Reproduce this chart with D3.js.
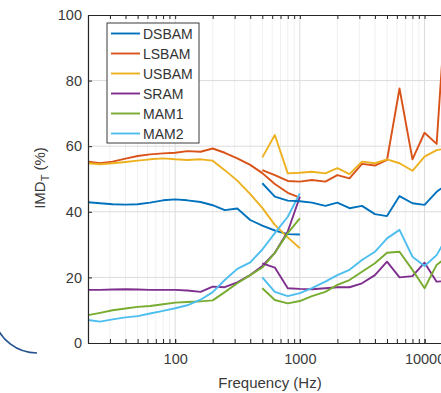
<!DOCTYPE html>
<html>
<head>
<meta charset="utf-8">
<script src="https://cdn.jsdelivr.net/npm/d3@7"></script>
<style>
  body { margin: 0; background: #fff; }
  svg { display: block; font-family: "Liberation Sans", Arial, sans-serif; }
</style>
</head>
<body>
<svg id="chart" width="441" height="393"></svg>
<script>
// third-octave frequencies of the two measurement sweeps
var freqLow = [20, 25, 31.5, 40, 50, 63, 80, 100, 125, 160, 200, 250, 315, 400, 500, 630, 800, 1000];
var freqHigh = [500, 630, 800, 1000, 1250, 1600, 2000, 2500, 3150, 4000, 5000, 6300, 8000, 10000, 12500, 16000];

var seriesNames = ["DSBAM", "LSBAM", "USBAM", "SRAM", "MAM1", "MAM2"];

// IMD_T (%) for the low sweep
var dsbamLow = [42.9, 42.6, 42.3, 42.2, 42.3, 42.8, 43.5, 43.8, 43.5, 43.0, 42.0, 40.5, 41.0, 37.5, 35.8, 34.3, 33.2, 33.1];
var lsbamLow = [55.3, 54.8, 55.3, 56.2, 57.0, 57.5, 57.8, 58.0, 58.5, 58.3, 59.3, 58.0, 56.3, 54.3, 51.8, 48.5, 45.8, 44.3];
var usbamLow = [54.8, 54.5, 54.8, 55.2, 55.6, 56.0, 56.3, 56.0, 55.8, 56.0, 55.6, 52.7, 49.5, 45.4, 41.2, 36.0, 32.2, 28.9];
var sramLow  = [16.2, 16.2, 16.3, 16.4, 16.3, 16.2, 16.2, 16.2, 16.0, 15.6, 17.2, 17.0, 18.5, 20.7, 23.5, 27.5, 34.0, 44.6];
var mam1Low  = [8.5, 9.2, 10.0, 10.5, 11.0, 11.3, 11.8, 12.3, 12.5, 12.7, 13.0, 15.5, 18.2, 20.7, 23.0, 27.5, 33.5, 38.0];
var mam2Low  = [7.0, 6.5, 7.2, 7.8, 8.2, 9.0, 9.8, 10.6, 11.5, 13.2, 15.5, 19.2, 22.6, 24.6, 28.5, 33.5, 38.5, 45.6];

// IMD_T (%) for the high sweep
var dsbamHigh = [48.7, 44.6, 43.4, 43.2, 42.8, 41.8, 42.8, 41.1, 41.8, 39.3, 38.7, 44.8, 42.6, 42.1, 46.1, 49.0];
var lsbamHigh = [52.7, 51.2, 49.4, 49.2, 49.7, 49.2, 51.2, 50.2, 54.6, 54.1, 55.8, 77.6, 56.0, 64.1, 60.7, 122];
var usbamHigh = [56.6, 63.4, 51.7, 51.9, 52.2, 51.7, 53.3, 51.5, 55.3, 54.8, 56.0, 54.8, 52.5, 56.8, 58.8, 59.5];
var sramHigh  = [24.3, 23.0, 16.7, 16.5, 16.4, 16.7, 17.0, 17.0, 18.2, 20.7, 24.8, 20.0, 20.4, 24.5, 18.7, 19.0];
var mam1High  = [16.7, 13.1, 12.1, 12.8, 14.3, 15.6, 17.7, 19.2, 21.7, 24.3, 27.5, 27.8, 22.3, 16.7, 23.8, 27.0];
var mam2High  = [20.0, 15.6, 14.3, 15.2, 16.7, 18.7, 20.7, 22.3, 25.3, 27.8, 31.9, 34.5, 26.3, 23.5, 26.8, 34.0];

var yTicks = [0, 20, 40, 60, 80, 100];
var xTicks = [100, 1000, 10000];

var colors = ["#0072BD", "#D95319", "#EDB120", "#7E2F8E", "#77AC30", "#4DBEEE"];
var lowSets = [dsbamLow, lsbamLow, usbamLow, sramLow, mam1Low, mam2Low];
var highSets = [dsbamHigh, lsbamHigh, usbamHigh, sramHigh, mam1High, mam2High];

var mLeft = 88, mTop = 15, mRight = 450, mBottom = 343;

var svg = d3.select("#chart");
var x = d3.scaleLog().domain([20, 16000]).range([mLeft, mRight]);
var y = d3.scaleLinear().domain([0, 100]).range([mBottom, mTop]);

// minor log positions
var minor = [];
[10, 100, 1000, 10000].forEach(function (d) {
    for (var k = 1; k < 10; k++) {
        var v = d * k;
        if (v >= 20 && v <= 16000) minor.push(v);
    }
});

// grid
var grid = svg.append("g");
grid.selectAll(".mg").data(minor.filter(function (v) { return xTicks.indexOf(v) < 0; }))
    .enter().append("line")
    .attr("x1", function (d) { return x(d); }).attr("x2", function (d) { return x(d); })
    .attr("y1", mTop).attr("y2", mBottom)
    .style("stroke", "#f0f0f0").style("stroke-width", 1);
grid.selectAll(".gx").data(xTicks).enter().append("line")
    .attr("x1", function (d) { return x(d); }).attr("x2", function (d) { return x(d); })
    .attr("y1", mTop).attr("y2", mBottom)
    .style("stroke", "#dcdcdc").style("stroke-width", 1);
grid.selectAll(".gy").data(yTicks.slice(1, 5)).enter().append("line")
    .attr("x1", mLeft).attr("x2", mRight)
    .attr("y1", function (d) { return y(d); }).attr("y2", function (d) { return y(d); })
    .style("stroke", "#dcdcdc").style("stroke-width", 1);

// lines
svg.append("clipPath").attr("id", "clip").append("rect")
    .attr("x", mLeft).attr("y", mTop).attr("width", mRight - mLeft).attr("height", mBottom - mTop);

var plot = svg.append("g").attr("clip-path", "url(#clip)");

function drawSet(freqs, sets) {
    for (var i = 0; i < sets.length; i++) {
        var pts = freqs.map(function (f, j) { return [f, sets[i][j]]; });
        plot.append("path")
            .datum(pts)
            .attr("d", d3.line().x(function (d) { return x(d[0]); }).y(function (d) { return y(d[1]); }))
            .style("fill", "none")
            .style("stroke", colors[i])
            .style("stroke-width", 1.9)
            .style("stroke-linejoin", "round");
    }
}
drawSet(freqLow, lowSets);
drawSet(freqHigh, highSets);

// axes
var axisColor = "#262626";
var gx = svg.append("g").attr("transform", "translate(0," + mBottom + ")")
    .call(d3.axisBottom(x).tickValues(xTicks).tickFormat(d3.format("d")).tickSizeInner(-4).tickSizeOuter(0).tickPadding(8));
var gxm = svg.append("g").attr("transform", "translate(0," + mBottom + ")")
    .call(d3.axisBottom(x).tickValues(minor).tickFormat("").tickSizeInner(-4).tickSizeOuter(0));
var gtop = svg.append("g").attr("transform", "translate(0," + mTop + ")")
    .call(d3.axisTop(x).tickValues(minor).tickFormat("").tickSizeInner(-4).tickSizeOuter(0));
var gy = svg.append("g").attr("transform", "translate(" + mLeft + ",0)")
    .call(d3.axisLeft(y).tickValues(yTicks).tickSizeInner(-4).tickSizeOuter(0).tickPadding(6));

[gx, gxm, gtop, gy].forEach(function (g) {
    g.select(".domain").style("stroke", axisColor).style("stroke-width", 1.2);
    g.selectAll(".tick line").style("stroke", axisColor);
    g.selectAll("text").style("font-family", "Liberation Sans, Arial, sans-serif")
        .style("font-size", "14.5px").style("fill", "#3a3a3a");
});
gx.selectAll("text").attr("dy", "0.9em");

// axis labels
svg.append("text")
    .attr("x", 270).attr("y", 388)
    .attr("text-anchor", "middle")
    .style("font-size", "15px").style("fill", "#3a3a3a")
    .text("Frequency (Hz)");

var yl = svg.append("text")
    .attr("transform", "translate(45,178) rotate(-90)")
    .attr("text-anchor", "middle")
    .style("font-size", "15px").style("fill", "#3a3a3a");
yl.append("tspan").text("IMD");
yl.append("tspan").attr("dy", 4).style("font-size", "11px").text("T");
yl.append("tspan").attr("dy", -4).text(" (%)");

// legend
var legend = svg.append("g");
legend.append("rect")
    .attr("x", 107).attr("y", 23).attr("width", 92).attr("height", 120)
    .style("fill", "#fff").style("stroke", "#3a3a3a").style("stroke-width", 1);
seriesNames.forEach(function (name, i) {
    var ly = 33.5 + i * 20;
    legend.append("line")
        .attr("x1", 111).attr("x2", 140).attr("y1", ly).attr("y2", ly)
        .style("stroke", colors[i]).style("stroke-width", 1.9);
    legend.append("text")
        .attr("x", 143).attr("y", ly + 5)
        .style("font-size", "14px").style("fill", "#333")
        .text(name);
});

// stray annotation arc from neighbouring panel
var p = d3.path();
p.arc(37, 309, 44, 165 * Math.PI / 180, Math.PI / 2, true);
svg.append("path").attr("d", p.toString())
    .style("fill", "none").style("stroke", "#24528f").style("stroke-width", 1.6);
</script>
</body>
</html>
